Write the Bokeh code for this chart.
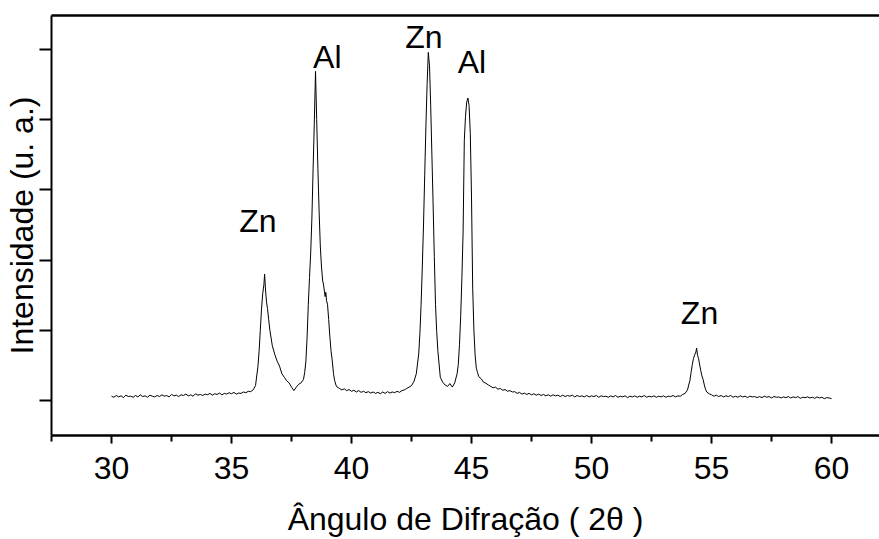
import numpy as np
from bokeh.plotting import figure
from bokeh.models import LinearAxis, FixedTicker, Range1d, ColumnDataSource
from bokeh.core.properties import value
from bokeh.embed import file_html
from bokeh.resources import INLINE

# ---- data ----
bg1_x = np.round(np.arange(30.0, 35.85, 0.1), 2)
bg1_y = [60, 45, 70, 50, 65, 40, 75, 55, 60, 45,
         70, 50, 80, 55, 65, 45, 75, 60, 50, 70,
         55, 80, 60, 70, 50, 85, 65, 75, 55, 80,
         70, 90, 65, 80, 60, 95, 75, 85, 70, 90,
         80, 100, 75, 95, 85, 105, 80, 100, 90, 110,
         95, 115, 90, 105, 100, 120, 110, 130, 125]

zn1_x = [35.9, 36.0, 36.1, 36.15, 36.2, 36.25, 36.3, 36.35, 36.38, 36.42, 36.46, 36.5,
         36.55, 36.6, 36.7, 36.8, 36.9, 37.0, 37.1, 37.2, 37.3, 37.4, 37.5, 37.6]
zn1_y = [150, 210, 480, 700, 1000, 1300, 1520, 1650, 1800, 1560, 1400, 1310,
         1150, 1000, 780, 660, 560, 490, 380, 330, 280, 250, 190, 140]

al1_x = [37.7, 37.8, 37.9, 38.0, 38.05, 38.1, 38.15, 38.2, 38.25, 38.3, 38.35, 38.4,
         38.45, 38.5, 38.55, 38.6, 38.65, 38.7, 38.75, 38.8, 38.83, 38.87, 38.9, 38.93,
         38.96, 39.0, 39.05, 39.1, 39.15, 39.2, 39.25, 39.3, 39.35, 39.4]
al1_y = [190, 230, 250, 300, 400, 560, 900, 1370, 1750, 2100, 2600, 3300,
         3950, 4690, 4000, 3300, 2700, 2200, 1900, 1700, 1660, 1560, 1480, 1540,
         1420, 1370, 1150, 900, 700, 560, 380, 280, 220, 190]

bg2_x = np.round(np.arange(39.5, 42.35, 0.1), 2)
bg2_y = [170, 150, 165, 140, 155, 130, 145, 120, 140, 115,
         130, 110, 125, 105, 120, 100, 115, 95, 120, 100,
         125, 105, 120, 110, 130, 115, 140, 150, 170]

zn2_x = [42.4, 42.5, 42.6, 42.7, 42.8, 42.85, 42.9, 42.95, 43.0, 43.05, 43.1, 43.15,
         43.2, 43.25, 43.3, 43.35, 43.4, 43.45, 43.5, 43.55, 43.6, 43.7, 43.8, 43.9,
         44.0, 44.1, 44.2, 44.3]
zn2_y = [190, 210, 270, 380, 660, 950, 1370, 1900, 2500, 3200, 3900, 4500,
         4960, 4770, 4200, 3500, 2800, 2050, 1370, 980, 700, 330, 260, 220,
         200, 240, 190, 250]

al2_x = [44.4, 44.45, 44.5, 44.55, 44.6, 44.65, 44.7, 44.75, 44.8, 44.85, 44.9, 44.95,
         45.0, 45.05, 45.1, 45.15, 45.2, 45.25, 45.3, 45.4, 45.5, 45.6, 45.7]
al2_y = [380, 514, 800, 1200, 1750, 2400, 3700, 4050, 4250, 4310, 4200, 3800,
         2900, 1600, 1000, 650, 460, 400, 340, 310, 260, 245, 220]

bg3_x = np.round(np.arange(45.8, 53.85, 0.1), 2)
bg3_y = [200, 180, 190, 160, 170, 145, 155, 130, 140, 120,
         125, 100, 115, 90, 105, 85, 100, 80, 95, 75,
         90, 70, 85, 65, 80, 60, 80, 65, 75, 55,
         75, 55, 70, 60, 75, 50, 70, 55, 65, 50,
         70, 50, 65, 55, 70, 45, 65, 55, 60, 45,
         65, 50, 70, 45, 60, 50, 65, 40, 60, 50,
         65, 45, 60, 50, 70, 45, 60, 50, 65, 45,
         60, 50, 65, 45, 60, 55, 70, 50, 65, 60,
         85]

zn3_x = [53.9, 54.0, 54.05, 54.1, 54.15, 54.2, 54.25, 54.3, 54.35, 54.38, 54.42, 54.46,
         54.5, 54.55, 54.6, 54.65, 54.7, 54.75, 54.8, 54.9]
zn3_y = [100, 150, 220, 280, 400, 510, 600, 650, 690, 745, 640, 600,
         520, 430, 350, 300, 220, 160, 120, 95]

bg4_x = np.round(np.arange(55.0, 60.05, 0.1), 2)
bg4_y = [80, 60, 75, 55, 70, 50, 65, 55, 70, 45,
         60, 45, 65, 50, 60, 40, 60, 50, 55, 40,
         55, 40, 60, 45, 55, 35, 55, 45, 50, 35,
         50, 40, 55, 35, 50, 40, 55, 30, 45, 40,
         50, 35, 45, 30, 50, 35, 45, 25, 40, 35,
         25]

peak_labels = ["Zn", "Al", "Zn", "Al", "Zn"]
peak_label_x = [36.1, 38.99, 43.02, 45.02, 54.5]
peak_label_y = [2560, 4900, 5185, 4830, 1240]

x_ticks = [30, 35, 40, 45, 50, 55, 60]
x_minor = [27.5, 32.5, 37.5, 42.5, 47.5, 52.5, 57.5, 62.5]
y_ticks = [0, 1000, 2000, 3000, 4000, 5000]

two_theta = np.concatenate([bg1_x, zn1_x, al1_x, bg2_x, zn2_x, al2_x, bg3_x, zn3_x, bg4_x])
intensity = np.concatenate([bg1_y, zn1_y, al1_y, bg2_y, zn2_y, al2_y, bg3_y, zn3_y, bg4_y])

FONT = "Liberation Sans"

p = figure(width=879, height=539, x_range=Range1d(27.5, 62.0), y_range=Range1d(-500, 5486),
           output_backend="svg", toolbar_location=None,
           min_border_left=51, min_border_right=0, min_border_top=15, min_border_bottom=0)
p.outline_line_color = None
p.xgrid.visible = False
p.ygrid.visible = False
p.background_fill_color = "white"
p.border_fill_color = "white"

p.line(two_theta, intensity, line_color="black", line_width=1)

src = ColumnDataSource(dict(x=peak_label_x, y=peak_label_y, t=peak_labels))
p.text(x="x", y="y", text="t", source=src, text_font=value(FONT), text_font_size="32px",
       text_align="center", text_baseline="alphabetic", text_color="black")

xa = p.xaxis[0]
xa.ticker = FixedTicker(ticks=x_ticks, minor_ticks=x_minor)
xa.axis_line_width = 2.5
xa.major_tick_line_width = 2
xa.minor_tick_line_width = 2
xa.major_tick_in = 0
xa.major_tick_out = 8
xa.minor_tick_in = 0
xa.minor_tick_out = 6
xa.major_label_text_font = FONT
xa.major_label_text_font_size = "32px"
xa.major_label_text_color = "black"
xa.major_label_standoff = 13
xa.axis_label = "Ângulo de Difração ( 2θ )"
xa.axis_label_text_font = FONT
xa.axis_label_text_font_size = "32px"
xa.axis_label_text_font_style = "normal"
xa.axis_label_text_color = "black"
xa.axis_label_standoff = 19

ya = p.yaxis[0]
ya.ticker = FixedTicker(ticks=y_ticks, minor_ticks=[])
ya.axis_line_width = 2
ya.major_tick_line_width = 2
ya.major_tick_in = 0
ya.major_tick_out = 12
ya.minor_tick_out = 0
ya.minor_tick_in = 0
ya.major_label_overrides = {t: "" for t in y_ticks}
ya.major_label_standoff = 0
ya.axis_label = "Intensidade (u. a.)"
ya.axis_label_text_font = FONT
ya.axis_label_text_font_size = "32px"
ya.axis_label_text_font_style = "normal"
ya.axis_label_text_color = "black"
ya.axis_label_standoff = 0

top = LinearAxis(ticker=FixedTicker(ticks=[], minor_ticks=[]),
                 axis_line_width=2.5, major_tick_out=0, major_tick_in=0,
                 minor_tick_out=0, minor_tick_in=0, major_label_standoff=0)
p.add_layout(top, "above")

open("out.html", "w").write(file_html(p, INLINE))
